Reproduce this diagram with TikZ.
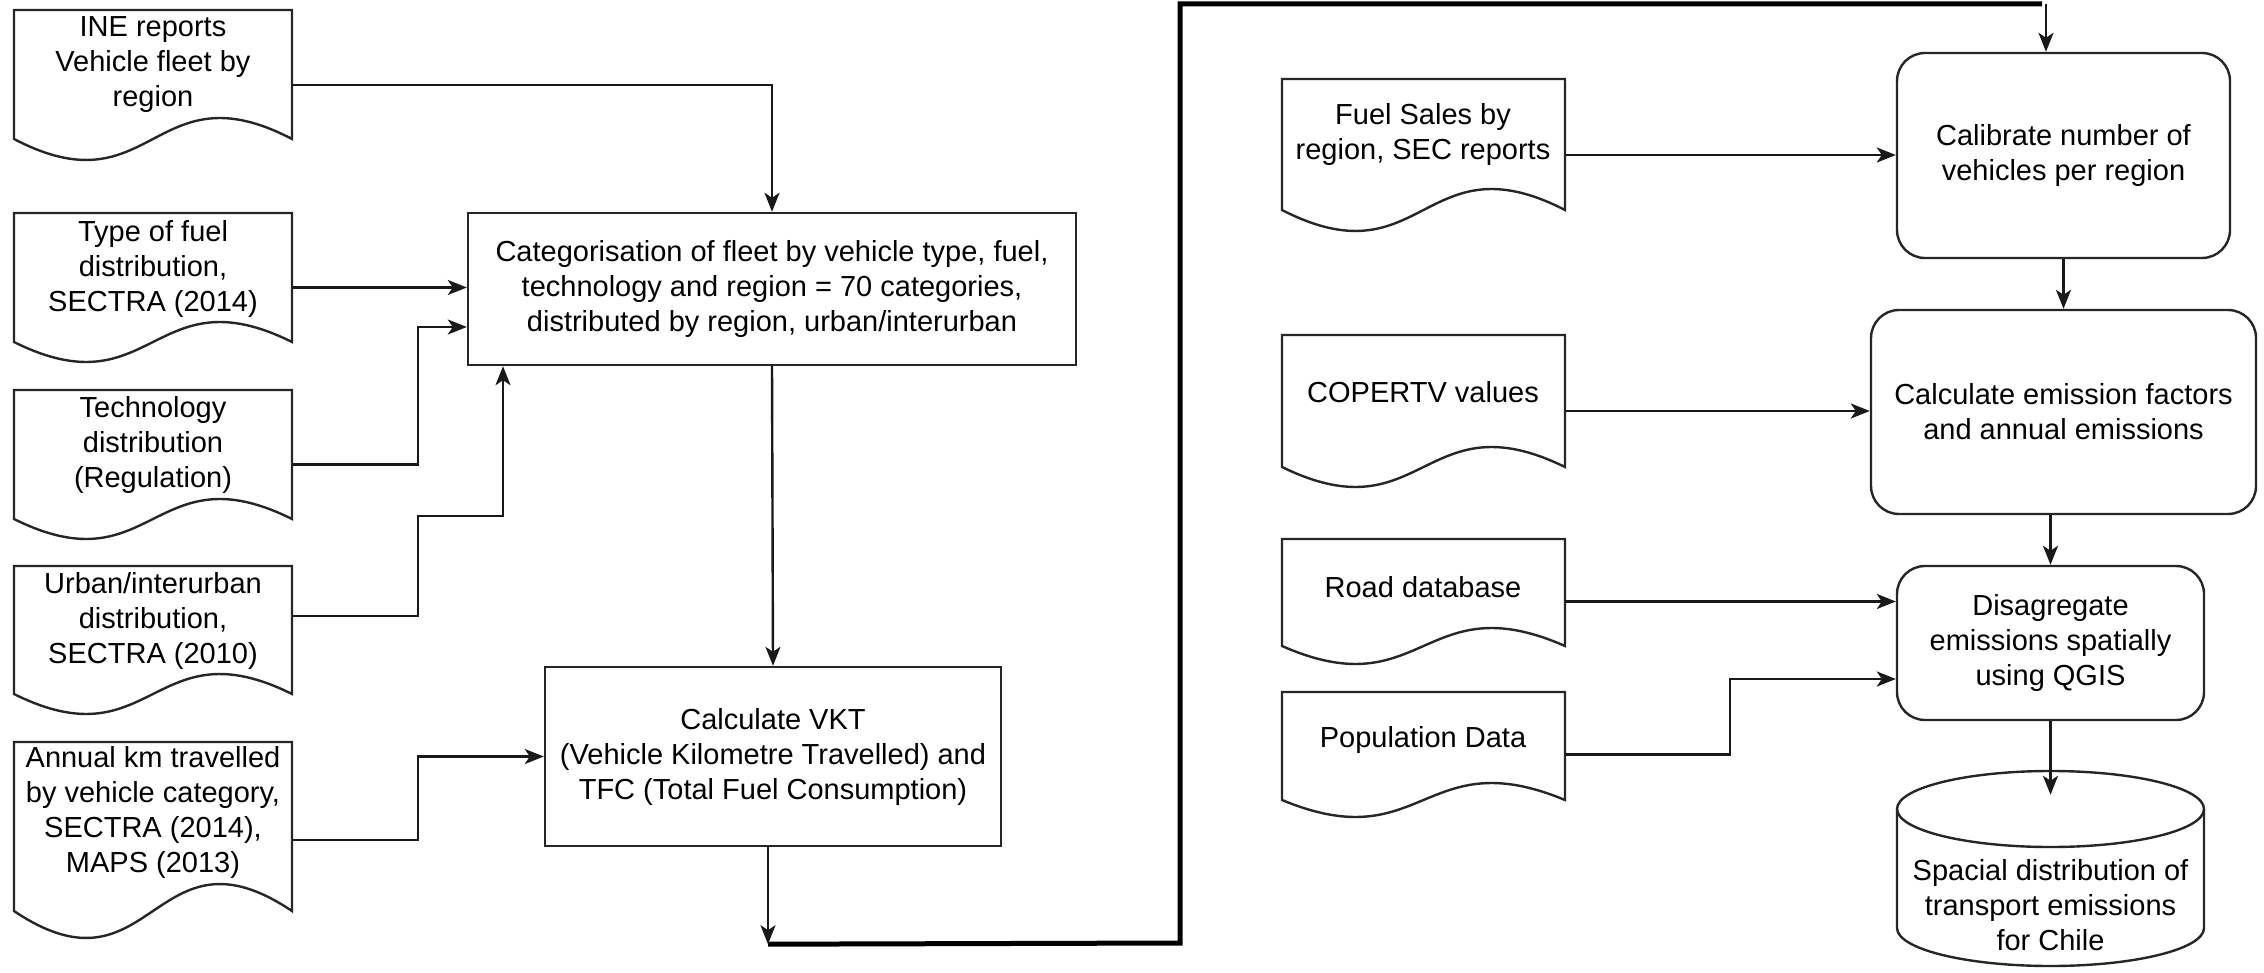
\documentclass[tikz,border=0pt]{standalone}
\usepackage{fontspec}
\setmainfont{Liberation Sans}
\usetikzlibrary{arrows.meta,calc,fit}
\tikzset{
  shapeline/.style={draw=black!85, line width=2.4pt},
  txt/.style={font=\fontsize{29}{35}\selectfont, align=center, inner sep=0pt},
  proc/.style={shapeline, txt},
  rproc/.style={shapeline, txt, rounded corners=28pt},
  arr/.style={draw=black!90, line width=2.4pt, -{Stealth[length=19pt,width=15pt,inset=5pt]}},
  loopline/.style={draw=black, line width=5pt},
}
% name, left, top, right, y of side ends, wave amplitude
\newcommand\docshape[6]{%
  \path (#2,#3) coordinate (#1-nw) (#4,#5+#6) coordinate (#1-se);
  \node[fit=(#1-nw)(#1-se), inner sep=0pt] (#1) {};
  \draw[shapeline] (#2,#3) -- (#4,#3) -- (#4,#5)
    .. controls ({(#2+#4)/2},{#5-3.46*#6}) and ({(#2+#4)/2},{#5+3.46*#6}) .. (#2,#5) -- cycle;
}
\begin{document}
\begin{tikzpicture}[x=1pt,y=-1pt]
\useasboundingbox (0,0) rectangle (2264,973);

% ---- left column documents
\docshape{ine}{14}{10}{292}{139}{21}
\node[txt] (ine-t) at (153,65) {INE reports\\Vehicle fleet by\\region};
\docshape{fuel}{14}{213}{292}{342}{20}
\node[txt] (fuel-t) at (153,269) {Type of fuel\\distribution,\\SECTRA (2014)};
\docshape{tech}{14}{390}{292}{519}{20}
\node[txt] (tech-t) at (153,445) {Technology\\distribution\\(Regulation)};
\docshape{urb}{14}{566}{292}{694}{20}
\node[txt] (urb-t) at (153,621) {Urban/interurban\\distribution,\\SECTRA (2010)};
\docshape{ann}{14}{742}{292}{911}{27}
\node[txt] (ann-t) at (153,812) {Annual km travelled\\by vehicle category,\\SECTRA (2014),\\MAPS (2013)};

% ---- left processes
\node[proc, minimum width=608pt, minimum height=152pt] (cat) at (772,289)
  {Categorisation of fleet by vehicle type, fuel,\\technology and region = 70 categories,\\distributed by region, urban/interurban};
\node[proc, minimum width=456pt, minimum height=179pt] (vkt) at (773,756.5)
  {Calculate VKT\\(Vehicle Kilometre Travelled) and\\TFC (Total Fuel Consumption)};

% ---- right column documents
\docshape{sales}{1282}{79}{1565}{210}{21}
\node[txt] (sales-t) at (1423,135) {Fuel Sales by\\region, SEC reports};
\docshape{cop}{1282}{335}{1565}{467}{20}
\node[txt] (cop-t) at (1423,392) {COPERTV values};
\docshape{road}{1282}{539}{1565}{646}{18}
\node[txt] (road-t) at (1423,587) {Road database};
\docshape{pop}{1282}{692}{1565}{800}{17}
\node[txt] (pop-t) at (1423,740) {Population Data};

% ---- right processes
\node[rproc, minimum width=333pt, minimum height=205pt] (calib) at (2063.5,155.5)
  {Calibrate number of\\vehicles per region};
\node[rproc, minimum width=385pt, minimum height=204pt] (emis) at (2063.5,412)
  {Calculate emission factors\\and annual emissions};
\node[rproc, minimum width=307pt, minimum height=154pt] (disag) at (2050.5,643)
  {Disagregate\\emissions spatially\\using QGIS};

% ---- cylinder (data store)
\path (1897,771) coordinate (cyl-nw) (2204,966) coordinate (cyl-se);
\node[fit=(cyl-nw)(cyl-se), inner sep=0pt] (cyl) {};
\draw[shapeline] (1897,809) -- (1897,928)
  arc[start angle=180, end angle=360, x radius=153.5pt, y radius=38pt]
  -- (2204,809)
  arc[start angle=0, end angle=180, x radius=153.5pt, y radius=38pt] -- cycle;
\draw[shapeline] (1897,809) arc[start angle=180, end angle=360, x radius=153.5pt, y radius=38pt];
\node[txt] (cyl-t) at (2050.5,905) {Spacial distribution of\\transport emissions\\for Chile};

% ---- connectors, left part
\draw[arr] (ine.east) -| (cat.north);
\draw[arr] (fuel.east) -- (fuel.east -| cat.west);
\draw[arr] (tech.east) -- ++(126,0) |- ([yshift=-38pt]cat.west);
\draw[arr] ([yshift=24pt]urb.east) -- ++(126,0) -- ++(0,-100) -| ([xshift=-269pt]cat.south);
\draw[arr] (ann.east) -- ++(126,0) |- (vkt.west);
\draw[arr] (cat.south) -- (vkt.north);

% ---- loop from VKT to calibration
\coordinate (c1) at ($(vkt.south)+(-5,97)$);
\coordinate (c2) at (1180,943);
\coordinate (c3) at (1180,4);
\coordinate (c4) at (2046,4);
\draw[arr] ([xshift=-5pt]vkt.south) -- (c1);
\draw[loopline] (c1) -- (c2) -- (c3) -- ([xshift=-4pt]c4);
\draw[arr] (c4) -- (c4 |- calib.north);

% ---- connectors, right part
\draw[arr] (sales.east) -- (sales.east -| calib.west);
\draw[arr] (calib.south) -- (emis.north);
\draw[arr] (cop.east) -- (cop.east -| emis.west);
\draw[arr] (disag.north |- emis.south) -- (disag.north);
\draw[arr] (road.east) -- (road.east -| disag.west);
\draw[arr] (pop.east) -- ++(165,0) |- ([yshift=-36pt]disag.west);
\draw[arr] (disag.south) -- ([yshift=-24pt]cyl.north);
\end{tikzpicture}
\end{document}
